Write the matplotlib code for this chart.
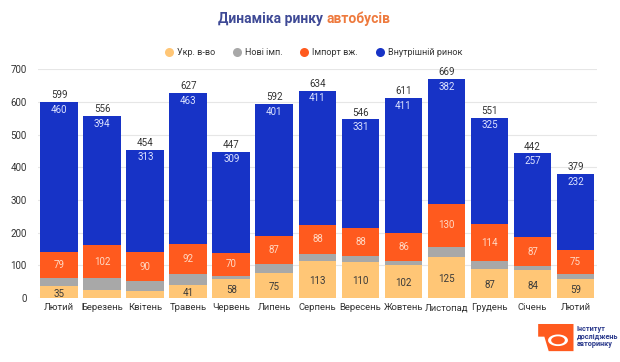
import matplotlib.pyplot as plt
import numpy as np
from matplotlib.patches import Polygon, Wedge
from matplotlib.lines import Line2D

plt.rcParams['font.family'] = ['Roboto', 'DejaVu Sans']

# Data
months = ['Лютий', 'Березень', 'Квітень', 'Травень', 'Червень', 'Липень', 'Серпень',
          'Вересень', 'Жовтень', 'Листопад', 'Грудень', 'Січень', 'Лютий']
ukr = [35, 24, 22, 41, 58, 75, 113, 110, 102, 125, 87, 84, 59]
new_imp = [25, 36, 29, 31, 10, 29, 22, 17, 12, 32, 25, 14, 13]
used_imp = [79, 102, 90, 92, 70, 87, 88, 88, 86, 130, 114, 87, 75]
domestic = [460, 394, 313, 463, 309, 401, 411, 331, 411, 382, 325, 257, 232]
totals = [599, 556, 454, 627, 447, 592, 634, 546, 611, 669, 551, 442, 379]

series = [
    ('Укр. в-во', ukr, '#FFC676', '#3a3a3a'),
    ('Нові імп.', new_imp, '#A8A8A8', None),
    ('Імпорт вж.', used_imp, '#FF5A1E', '#FFD9C4'),
    ('Внутрішній ринок', domestic, '#1733C6', '#DDE3FF'),
]

fig = plt.figure(figsize=(6.2, 3.62), dpi=100)
ax = fig.add_axes([0.061, 0.177, 0.902, 0.632])

x = np.arange(len(months))
bottom = np.zeros(len(months))
for name, vals, color, lc in series:
    vals = np.array(vals)
    ax.bar(x, vals, 0.88, bottom=bottom, color=color, label=name, zorder=2)
    if lc is not None:
        for xi, b, v in zip(x, bottom, vals):
            if name == 'Укр. в-во' and v < 30:
                continue
            if name == 'Внутрішній ринок':
                ax.text(xi, b + v - 8, str(v), ha='center', va='top', fontsize=7,
                        color=lc, zorder=3)
            else:
                ax.text(xi, b + v / 2 + (0 if name != 'Укр. в-во' else -4), str(v),
                        ha='center', va='center', fontsize=7, color=lc, zorder=3)
    bottom += vals

for xi, t in zip(x, totals):
    ax.text(xi, t + 6, str(t), ha='center', va='bottom', fontsize=7, color='#333333', zorder=3)

ax.set_xlim(-0.5, len(months) - 0.5)
ax.set_ylim(0, 700)
ax.set_yticks(range(0, 701, 100))
ax.yaxis.grid(True, color='#E6E6E6', linewidth=0.8, zorder=0)
ax.set_axisbelow(True)
ax.set_xticks(x)
ax.set_xticklabels(months, fontsize=6.8, color='#333333')
ax.tick_params(axis='y', labelsize=7, colors='#333333', length=0, pad=8)
ax.tick_params(axis='x', length=0, pad=4)
for s in ax.spines.values():
    s.set_visible(False)
ax.patch.set_alpha(0)

# title
fig.text(0.527, 0.948, 'Динаміка ринку ', fontsize=10, fontweight='bold',
         color='#3F4A96', ha='right', va='center')
fig.text(0.527, 0.948, 'автобусів', fontsize=10, fontweight='bold',
         color='#EE7A3E', ha='left', va='center')

handles = [Line2D([], [], marker='o', linestyle='none', markersize=6.5,
                  markerfacecolor=c, markeredgecolor='none') for _, _, c, _ in series]
labels = [n for n, _, _, _ in series]
fig.legend(handles, labels, loc='center', bbox_to_anchor=(0.505, 0.855), ncol=4,
           frameon=False, fontsize=6.5, handlelength=1, columnspacing=1.9,
           handletextpad=0.4, labelcolor='#333333')

# logo
fig.patches.append(Polygon([[0.868, 0.07], [0.868, 0.105], [0.925, 0.105], [0.925, 0.03],
                            [0.885, 0.03], [0.878, 0.07]], closed=True,
                           transform=fig.transFigure, facecolor='#FF5A1E', edgecolor='none'))
fig.patches.append(Wedge((0.9, 0.06), 0.016, 0, 360, width=0.005,
                         transform=fig.transFigure, facecolor='white', edgecolor='none'))
fig.text(0.93, 0.07, 'Інститут\nдосліджень\nавторинку', fontsize=5.2, fontweight='bold',
         color='#2B3A8C', ha='left', va='center', linespacing=0.95)

fig.savefig('out.png', dpi=100)
